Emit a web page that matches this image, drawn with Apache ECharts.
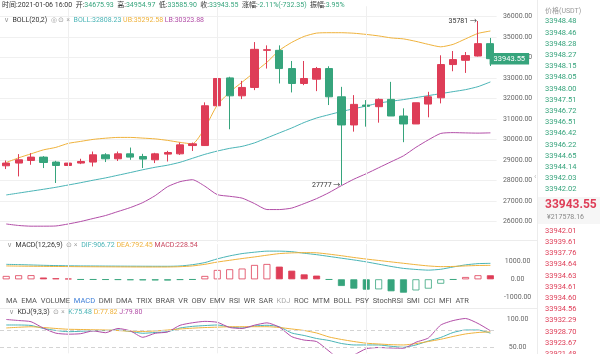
<!DOCTYPE html>
<html>
<head>
<meta charset="utf-8">
<script src="https://cdn.jsdelivr.net/npm/echarts@6/dist/echarts.min.js"></script>
<style>
html, body { margin: 0; padding: 0; background: #fff; }
#chart { width: 600px; height: 354px; }
</style>
</head>
<body>
<div id="chart"></div>
<script>
// 4h candles, last one is 2021-01-06 16:00
var categories = ['12-31 04:00', '12-31 08:00', '12-31 12:00', '12-31 16:00', '12-31 20:00',
	'01-01 00:00', '01-01 04:00', '01-01 08:00', '01-01 12:00', '01-01 16:00', '01-01 20:00',
	'01-02 00:00', '01-02 04:00', '01-02 08:00', '01-02 12:00', '01-02 16:00', '01-02 20:00',
	'01-03 00:00', '01-03 04:00', '01-03 08:00', '01-03 12:00', '01-03 16:00', '01-03 20:00',
	'01-04 00:00', '01-04 04:00', '01-04 08:00', '01-04 12:00', '01-04 16:00', '01-04 20:00',
	'01-05 00:00', '01-05 04:00', '01-05 08:00', '01-05 12:00', '01-05 16:00', '01-05 20:00',
	'01-06 00:00', '01-06 04:00', '01-06 08:00', '01-06 12:00', '01-06 16:00'];

// [open, close, low, high]
var candles = [
	[28718, 28850, 28558, 28976], [28850, 29010, 28200, 29287], [28976, 29141, 28767, 29335],
	[29141, 28879, 28607, 29190], [28899, 28733, 27879, 28960], [28733, 28850, 28282, 29010],
	[28850, 28928, 28800, 29060], [28899, 29253, 28685, 29413], [29253, 29059, 28900, 29330],
	[29059, 29301, 28950, 29413], [29301, 29141, 29010, 29607], [29171, 29044, 28607, 29301],
	[29010, 29301, 28850, 29350], [29287, 29365, 28928, 29447], [29301, 29738, 29250, 29850],
	[29705, 29787, 29440, 29850], [29705, 31646, 29690, 31811], [31646, 32976, 31600, 33267],
	[33005, 32131, 30500, 33060], [32131, 32539, 31971, 32860], [32539, 34398, 32408, 34753],
	[34350, 34380, 33461, 34592], [34350, 33461, 32733, 34592], [33461, 32733, 32296, 33830],
	[32733, 32976, 32651, 33830], [32942, 33461, 32359, 33539], [33461, 32083, 31680, 33573],
	[32083, 30709, 27777, 32568], [30709, 31713, 30384, 32165], [31680, 31620, 30626, 31923],
	[31600, 31957, 30821, 32005], [31957, 31146, 31146, 32811], [31146, 30758, 29869, 31520],
	[30758, 31792, 30758, 31792], [31728, 32083, 31083, 32326], [32034, 33656, 31762, 34107],
	[33656, 33898, 33330, 34316], [33864, 34092, 33248, 34267], [34073, 34675.90, 34050, 35781],
	[34675.93, 33943.55, 33585.90, 34954.97]];

var bollMid = [27295, 27387, 27480, 27572, 27669, 27781, 27893, 28014, 28126, 28257,
	28388, 28524, 28646, 28747, 28888, 29082, 29276, 29436, 29568, 29665,
	29835, 30078, 30321, 30563, 30830, 31049, 31209, 31364, 31500, 31631,
	31777, 31864, 31947, 32044, 32141, 32238, 32335, 32432, 32578, 32808.23];
var bollUp = [28878, 29106, 29301, 29495, 29616, 29811, 29908, 30005, 30063, 30102,
	30102, 30068, 30030, 29957, 29860, 29787, 30564, 31680, 32311, 32796,
	33282, 33767, 34350, 34738, 35029, 35190, 35209, 35209, 35184, 35126,
	35053, 34956, 34908, 34787, 34641, 34520, 34641, 34908, 35175, 35292.58];
var bollLow = [25879, 25806, 25772, 25772, 25782, 25879, 26000, 26146, 26291, 26486,
	26680, 26922, 27262, 27699, 27942, 28039, 27723, 27311, 27229, 27141,
	26874, 26583, 26583, 26655, 26874, 27116, 27408, 27748, 28064, 28331,
	28622, 28913, 29204, 29617, 29981, 30296, 30335, 30321, 30311, 30323.88];

var dif = [850, 835, 815, 795, 780, 768, 760, 756, 752, 748, 745, 742, 740, 739, 756,
	830, 950, 1160, 1330, 1460, 1540, 1600, 1600, 1570, 1480, 1400, 1300, 1200, 1100, 990,
	860, 730, 620, 560, 520, 570, 700, 820, 890, 906.72];
var dea = [760, 750, 742, 735, 728, 722, 716, 712, 708, 705, 702, 700, 699, 700, 716,
	760, 850, 980, 1080, 1180, 1270, 1370, 1460, 1500, 1515, 1505, 1430, 1340, 1240, 1150,
	1070, 990, 910, 830, 760, 720, 730, 760, 785, 792.45];
var macdHist = [190, 230, 235, 100, 60, 40, -20, -20, -25, -30, -50, -60, -65, -70, -30,
	-20, 190, 530, 570, 610, 815, 870, 720, 490, 280, 210, -20, -380, -530, -590,
	-570, -680, -760, -630, -530, -250, -20, 130, 230, 228.54];

var kLine = [89.9, 89.9, 89.1, 83.8, 80.3, 78.1, 78.8, 79.7, 80.1, 81.1, 78.5, 75.3, 76.7,
	78.1, 84.6, 87.5, 88.9, 89.9, 86.4, 84.6, 88.2, 89.4, 86.8, 75.8, 71.4, 66.1, 62.6,
	57.3, 54.7, 54.7, 54.7, 52.4, 50.6, 54.7, 61.7, 67.9, 76.7, 81.1, 81.1, 75.48];
var dLine = [84.7, 85.9, 86.8, 85.5, 83.8, 82.4, 82.0, 81.5, 81.1, 80.1, 79.0, 78.5, 79.4,
	81.1, 82.9, 84.3, 85.4, 86.1, 86.8, 86.9, 86.9, 86.9, 85.5, 82.9, 80.2, 75.8, 68.8,
	64.4, 60.8, 57.8, 56.4, 55.2, 54.7, 57.1, 60.8, 64.7, 69.7, 74.1, 76.7, 77.82];
var jLine = [99.6, 97.8, 95.7, 84.3, 75.5, 73.7, 74.6, 79.5, 76.3, 83.8, 79.5, 68.2, 75.3,
	77.6, 89.4, 93.8, 96.3, 94.7, 85.5, 83.8, 89.6, 93.7, 86.1, 69.3, 63.3, 60.7, 43.9,
	28.0, 36.9, 48.1, 50.2, 49.4, 48.9, 59.5, 67.0, 89.8, 97.7, 101.4, 92.6, 79.80];

var askPrices = ['33948.48', '33948.46', '33948.28', '33948.27', '33948.15', '33948.05',
	'33948.00', '33947.51', '33946.72', '33946.51', '33946.42', '33946.22', '33944.65',
	'33944.14', '33942.03', '33942.02'];
var bidPrices = ['33942.01', '33939.61', '33937.76', '33934.64', '33934.63', '33934.61',
	'33934.60', '33934.56', '33932.29', '33928.70', '33923.67', '33921.48'];
var lastCny = '¥217578.16';
var headTime = '2021-01-06 16:00';
var tabs = ['MA', 'EMA', 'VOLUME', 'MACD', 'DMI', 'DMA', 'TRIX', 'BRAR', 'VR', 'OBV', 'EMV',
	'RSI', 'WR', 'SAR', 'KDJ', 'ROC', 'MTM', 'BOLL', 'PSY', 'StochRSI', 'SMI', 'CCI', 'MFI', 'ATR'];
var kdjLevels = [80, 50];
var vLineIdx = [5, 17, 29];

var FONT = 'Roboto, "Noto Sans CJK SC", sans-serif';
var RED = '#de3d57', GREEN = '#36a47c';
var C_MID = '#4ab4b6', C_UB = '#efb23c', C_LB = '#b24ea7';
var GRIDC = '#f0f0f0';

var chart = echarts.init(document.getElementById('chart'));

var last = candles[candles.length - 1];
var prevClose = candles[candles.length - 2][1];
var chg = last[1] - prevClose;
var n = function(v) { return v.toFixed(2); };

function lineSeries(data, color, xi) {
	return {
		type : 'line', data : data, xAxisIndex : xi, yAxisIndex : xi,
		symbol : 'none', smooth : 0.2, silent : true,
		lineStyle : {color : color, width : 1}
	};
}

var vLines = vLineIdx.map(function(i) {
	return {xAxis : categories[i], lineStyle : {color : '#efefef', type : 'solid', width : 1}};
});

var histData = macdHist.map(function(v, i) {
	var prev = i > 0 ? macdHist[i - 1] : 0;
	var c = v >= 0 ? RED : GREEN;
	var hollow = v >= prev;
	return {
		value : v,
		itemStyle : hollow
				? {color : '#fff', borderColor : c, borderWidth : 0.8}
				: {color : c, borderColor : c, borderWidth : 0.8}
	};
});

function yAx(gi, min, max, step, shown) {
	return {
		gridIndex : gi, position : 'right', min : min, max : max, interval : step,
		axisLine : {show : false}, axisTick : {show : false},
		axisLabel : {
			showMinLabel : false, showMaxLabel : false, align : 'center', margin : 21,
			fontSize : 7, color : '#666', fontFamily : FONT,
			formatter : function(v) {
				if (shown && shown.indexOf(v) < 0) return '';
				return v.toFixed(2);
			}
		},
		splitLine : {show : gi === 0, lineStyle : {color : GRIDC}, showMinLine : false, showMaxLine : false}
	};
}

var tabText = tabs.map(function(t) {
	if (t === 'MACD') return '{a|' + t + '}';
	if (t === 'KDJ') return '{b|' + t + '}';
	return t;
}).join('  ');

function txt(x, y, text, opt) {
	var s = {
		x : x, y : y, text : text, fontSize : 7, fontFamily : FONT, fill : '#333',
		verticalAlign : 'middle'
	};
	for (var k in opt) s[k] = opt[k];
	return {type : 'text', silent : true, style : s, z : 100};
}

var graphic = [
	{type : 'rect', shape : {x : 538, y : 197, width : 62, height : 27}, style : {fill : '#f6f6f6'}, silent : true},
	{type : 'line', shape : {x1 : 537.5, y1 : 0, x2 : 537.5, y2 : 354}, style : {stroke : '#ececec', lineWidth : 1}, silent : true},
	{type : 'line', shape : {x1 : 0, y1 : 240.5, x2 : 537, y2 : 240.5}, style : {stroke : '#ececec', lineWidth : 1}, silent : true},
	{type : 'line', shape : {x1 : 0, y1 : 308.5, x2 : 537, y2 : 308.5}, style : {stroke : '#ececec', lineWidth : 1}, silent : true},
	txt(2, 5, '{k|时间:' + headTime + '}  {k|开:}{v|' + n(last[0]) + '}  {k|高:}{v|' + n(last[3])
			+ '}  {k|低:}{v|' + n(last[2]) + '}  {k|收:}{v|' + n(last[1]) + '}  {k|涨幅:}{v|'
			+ (chg / prevClose * 100).toFixed(2) + '%(' + n(chg) + ')}  {k|振幅:}{v|'
			+ ((last[3] - last[2]) / prevClose * 100).toFixed(2) + '%}', {
		rich : {k : {fill : '#333', fontSize : 7, fontFamily : FONT}, v : {fill : GREEN, fontSize : 7, fontFamily : FONT}}
	}),
	txt(4, 20, '{i|∨}  BOLL(20,2)  {i|◎ ⊙ ×}  {m|BOLL:' + n(bollMid[39]) + '} {u|UB:' + n(bollUp[39])
			+ '} {l|LB:' + n(bollLow[39]) + '}', {
		rich : {i : {fill : '#999', fontSize : 6.5}, m : {fill : C_MID}, u : {fill : C_UB}, l : {fill : C_LB}}
	}),
	txt(7, 245, '{i|∨}  MACD(12,26,9)  {i|⊙ ×}  {m|DIF:' + n(dif[39]) + '} {u|DEA:' + n(dea[39])
			+ '} {l|MACD:' + n(macdHist[39]) + '}', {
		rich : {i : {fill : '#999', fontSize : 6.5}, m : {fill : C_MID}, u : {fill : C_UB}, l : {fill : '#c9475f'}}
	}),
	txt(6, 301.5, tabText, {fill : '#555', fontSize : 7.5, rich : {a : {fill : '#3f7fd8'}, b : {fill : '#aaa'}}}),
	txt(9, 312.5, '{i|∨}  KDJ(9,3,3)  {i|⊙ ×}  {m|K:' + n(kLine[39]) + '} {u|D:' + n(dLine[39])
			+ '} {l|J:' + n(jLine[39]) + '}', {
		rich : {i : {fill : '#999', fontSize : 6.5}, m : {fill : C_MID}, u : {fill : C_UB}, l : {fill : C_LB}}
	}),
	txt(545, 11, '价格(USDT)', {fill : '#999', fontSize : 7}),
	txt(545, 205, n(last[1]), {fill : RED, fontSize : 12, fontWeight : 'bold'}),
	txt(547, 217.5, lastCny, {fill : '#888', fontSize : 7}),
	txt(534, 177, '‹', {fill : '#bbb', fontSize : 8})
];
askPrices.forEach(function(p, i) {
	graphic.push(txt(545, 21.5 + i * 11.2, p, {fill : GREEN, fontSize : 7.5}));
});
bidPrices.forEach(function(p, i) {
	graphic.push(txt(545, 231 + i * 11.2, p, {fill : RED, fontSize : 7.5}));
});

var kSeries = lineSeries(kLine, C_MID, 2);
kSeries.markLine = {
	silent : true, symbol : 'none', label : {show : false},
	lineStyle : {color : '#d4d4d4', type : [4, 3], width : 1},
	data : kdjLevels.map(function(v) { return {yAxis : v}; }).concat(vLines)
};

var option = {
	animation : false,
	textStyle : {fontFamily : FONT},
	grid : [
		{left : -1, width : 497.6, top : 6.25, height : 235.75},
		{left : -1, width : 497.6, top : 244.1, height : 70.4},
		{left : -1, width : 497.6, top : 313.6, height : 39.7}
	],
	xAxis : [0, 1, 2].map(function(i) {
		return {type : 'category', gridIndex : i, data : categories, boundaryGap : true, show : false};
	}),
	yAxis : [
		yAx(0, 25000, 36500, 1000),
		yAx(1, -2000, 2000, 1000),
		yAx(2, 40, 110, 10, [100, 50])
	],
	series : [
		{
			type : 'candlestick', data : candles, xAxisIndex : 0, yAxisIndex : 0,
			barWidth : '62%', silent : true,
			itemStyle : {color : RED, color0 : GREEN, borderColor : RED, borderColor0 : GREEN, borderWidth : 1},
			markPoint : {
				symbol : 'circle', symbolSize : 0.1, silent : true,
				label : {
					position : 'left', distance : 1, color : '#333', fontSize : 7, fontFamily : FONT,
					formatter : function(p) { return Math.round(p.value) + ' →'; }
				},
				data : [{type : 'max', valueDim : 'highest'}, {type : 'min', valueDim : 'lowest'}]
			},
			markLine : {
				silent : true, symbol : 'none',
				data : vLines.concat([{
					yAxis : last[1],
					lineStyle : {color : 'rgba(0,0,0,0)', width : 0},
					label : {
						show : true, position : 'end', distance : -7,
						formatter : function(p) { return n(p.value); },
						color : '#fff', backgroundColor : GREEN, padding : [2, 4, 2, 4],
						fontSize : 7.5, fontFamily : FONT
					}
				}]),
				label : {show : false}
			},
			z : 3
		},
		lineSeries(bollMid, C_MID, 0),
		lineSeries(bollUp, C_UB, 0),
		lineSeries(bollLow, C_LB, 0),
		{
			type : 'bar', data : histData, xAxisIndex : 1, yAxisIndex : 1, barWidth : 7, silent : true,
			markLine : {silent : true, symbol : 'none', label : {show : false}, data : vLines}
		},
		lineSeries(dif, C_MID, 1),
		lineSeries(dea, C_UB, 1),
		kSeries,
		lineSeries(dLine, C_UB, 2),
		lineSeries(jLine, C_LB, 2)
	],
	graphic : graphic
};
chart.setOption(option);
</script>
</body>
</html>
